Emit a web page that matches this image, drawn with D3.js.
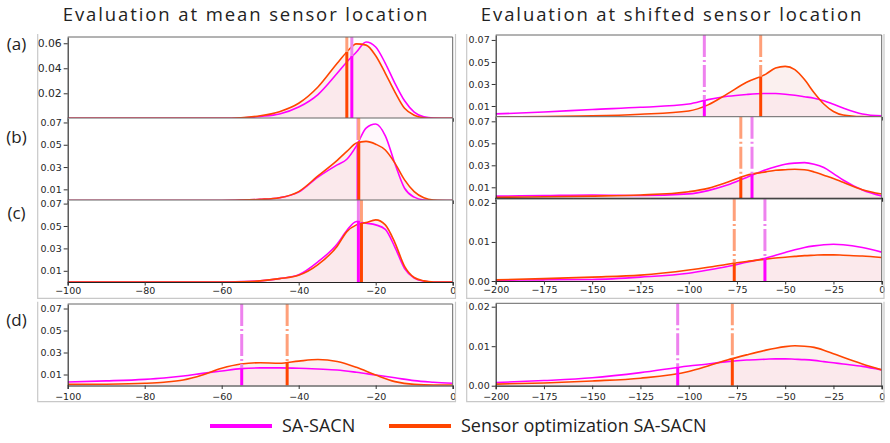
<!DOCTYPE html>
<html>
<head>
<meta charset="utf-8">
<script src="https://cdn.jsdelivr.net/npm/d3@7"></script>
<style>
  body { margin: 0; background: #fff; }
  svg { display: block; }
</style>
</head>
<body>
<svg id="chart" width="890" height="443"></svg>
<script>
// x grids (dB) for the density curves
const gridL = [-100, -60, -55, -50, -45, -40, -35, -30, -27.5, -25, -22.5, -20, -17.5, -15, -12.5, -10, -7.5, -5, 0];
const gridLd = [-100, -90, -80, -75, -70, -65, -60, -55, -50, -45, -40, -35, -30, -25, -20, -15, -10, -5, 0];
const gridR = [-200, -175, -150, -125, -100, -90, -80, -70, -60, -55, -50, -45, -40, -35, -30, -25, -20, -10, 0];

// density values: SA-SACN (sa) and Sensor optimization SA-SACN (opt)
const leftA_sa = [0, 0, 0.0003, 0.0015, 0.0035, 0.009, 0.019, 0.036, 0.045, 0.053, 0.061, 0.057, 0.044, 0.028, 0.014, 0.005, 0.0012, 0.0002, 0];
const leftA_opt = [0, 0, 0.0005, 0.002, 0.0053, 0.012, 0.025, 0.044, 0.053, 0.0595, 0.0585, 0.050, 0.036, 0.021, 0.008, 0.0025, 0.0005, 0, 0];
const leftB_sa = [0, 0, 0.0003, 0.001, 0.0025, 0.0075, 0.021, 0.032, 0.037, 0.049, 0.065, 0.0686, 0.058, 0.033, 0.011, 0.003, 0.0005, 0, 0];
const leftB_opt = [0, 0, 0.0003, 0.001, 0.0025, 0.008, 0.022, 0.036, 0.044, 0.0515, 0.053, 0.0505, 0.0453, 0.0335, 0.0185, 0.008, 0.0025, 0.0005, 0];
const leftC_sa = [0, 0, 0.0003, 0.001, 0.003, 0.0065, 0.018, 0.034, 0.046, 0.054, 0.0525, 0.051, 0.047, 0.031, 0.012, 0.0035, 0.0008, 0, 0];
const leftC_opt = [0, 0, 0.0002, 0.001, 0.003, 0.006, 0.0155, 0.032, 0.045, 0.051, 0.053, 0.0555, 0.051, 0.035, 0.014, 0.004, 0.001, 0, 0];
const leftD_sa = [0.0032, 0.0042, 0.0056, 0.0068, 0.0086, 0.011, 0.0132, 0.0153, 0.016, 0.016, 0.0157, 0.015, 0.0141, 0.012, 0.0095, 0.007, 0.0044, 0.003, 0.002];
const leftD_opt = [0.001, 0.0012, 0.002, 0.003, 0.005, 0.0095, 0.0156, 0.0195, 0.0207, 0.0202, 0.0222, 0.0236, 0.0218, 0.0165, 0.0095, 0.0035, 0.001, 0.0005, 0.0005];
const rightA_sa = [0.0028, 0.0045, 0.0068, 0.0088, 0.0118, 0.0158, 0.0188, 0.0205, 0.0214, 0.0213, 0.0207, 0.0197, 0.0184, 0.017, 0.0148, 0.0115, 0.0082, 0.0028, 0.001];
const rightA_opt = [0, 0.0005, 0.001, 0.0025, 0.0055, 0.011, 0.021, 0.0315, 0.039, 0.0445, 0.046, 0.043, 0.034, 0.022, 0.0118, 0.005, 0.0018, 0.0003, 0];
const rightB_sa = [0.002, 0.0025, 0.003, 0.0025, 0.004, 0.007, 0.012, 0.019, 0.026, 0.0287, 0.031, 0.032, 0.0324, 0.031, 0.028, 0.0225, 0.0166, 0.0075, 0.002];
const rightB_opt = [0.0009, 0.0014, 0.002, 0.003, 0.006, 0.009, 0.0145, 0.021, 0.024, 0.0255, 0.026, 0.0264, 0.026, 0.024, 0.021, 0.018, 0.0145, 0.0078, 0.0039];
const rightC_sa = [0.0002, 0.0003, 0.0004, 0.001, 0.002, 0.0028, 0.0037, 0.0048, 0.0059, 0.0066, 0.0073, 0.008, 0.0086, 0.009, 0.0093, 0.0094, 0.0093, 0.0086, 0.0074];
const rightC_opt = [0.0003, 0.0006, 0.001, 0.0015, 0.0028, 0.0035, 0.0043, 0.005, 0.0056, 0.0059, 0.0061, 0.0063, 0.0065, 0.0066, 0.0067, 0.0067, 0.0066, 0.0064, 0.006];
const rightD_sa = [0.0008, 0.0013, 0.002, 0.0033, 0.005, 0.0055, 0.0061, 0.0065, 0.0067, 0.0068, 0.0068, 0.0067, 0.0066, 0.0064, 0.0061, 0.0058, 0.0055, 0.0049, 0.004];
const rightD_opt = [0.0004, 0.0007, 0.0012, 0.0019, 0.0036, 0.005, 0.0065, 0.0078, 0.009, 0.0095, 0.0099, 0.0101, 0.01, 0.0097, 0.009, 0.0081, 0.0072, 0.0055, 0.004];

// means and density at the mean, order: left a,b,c,d then right a,b,c,d
const meanSA = [-26.2, -24.6, -24.5, -54.8, -91.9, -67.2, -60.5, -105.7];
const meanOpt = [-27.5, -24.4, -23.7, -43.0, -62.7, -73.0, -76.4, -77.4];
const atMeanSA = [0.0498, 0.052, 0.055, 0.0156, 0.0155, 0.0218, 0.0058, 0.0048];
const atMeanOpt = [0.053, 0.053, 0.052, 0.0207, 0.0366, 0.0196, 0.0047, 0.0069];

// ticks
const yTicksA = [0.02, 0.04, 0.06];
const yTicks7 = [0.01, 0.03, 0.05, 0.07];
const yTicks2 = [0.00, 0.01, 0.02];
const xTicksL = [-100, -80, -60, -40, -20, 0];
const xTicksR = [-200, -175, -150, -125, -100, -75, -50, -25, 0];
const xTicksHidden = [-160, -120, -80, -40];

const titles = ["Evaluation at mean sensor location", "Evaluation at shifted sensor location"];
const rowLabels = ["(a)", "(b)", "(c)", "(d)"];
const seriesNames = ["SA-SACN", "Sensor optimization SA-SACN"];

const colSA = "#ff00ff", colOpt = "#ff4500";
const lightSA = "#ee82ee", lightOpt = "#ffa07a";

// panel boxes
const L = { x0: 67.7, x1: 452.7, dom: [-100, 0] };
const R = { x0: 495.7, x1: 881.7, dom: [-200, 0] };
const panels = [
  { c: L, top: 37, bot: 118.3, ymax: 0.065, yt: yTicksA, fs: 10.8, xs: gridL, sa: leftA_sa, opt: leftA_opt },
  { c: L, top: 118, bot: 200.5, ymax: 0.074, yt: yTicks7, fs: 9.5, xs: gridL, sa: leftB_sa, opt: leftB_opt },
  { c: L, top: 200, bot: 282, ymax: 0.0732, yt: yTicks7, fs: 9.5, xs: gridL, sa: leftC_sa, opt: leftC_opt, xt: xTicksL, pad: 2 },
  { c: L, top: 304, bot: 385.5, ymax: 0.0741, yt: yTicks7, fs: 9.5, xs: gridLd, sa: leftD_sa, opt: leftD_opt, xt: xTicksL, pad: 4.5 },
  { c: R, top: 35, bot: 117, ymax: 0.0745, yt: yTicks7, fs: 9.5, xs: gridR, sa: rightA_sa, opt: rightA_opt },
  { c: R, top: 116.7, bot: 198.3, ymax: 0.0742, yt: yTicks7, fs: 9.5, xs: gridR, sa: rightB_sa, opt: rightB_opt, hidden: xTicksHidden },
  { c: R, top: 199, bot: 281, ymax: 0.021, yt: yTicks2, fs: 9.5, xs: gridR, sa: rightC_sa, opt: rightC_opt, xt: xTicksR, pad: 2 },
  { c: R, top: 303.3, bot: 385.7, ymax: 0.02086, yt: yTicks2, fs: 9.5, xs: gridR, sa: rightD_sa, opt: rightD_opt, xt: xTicksR, pad: 4.5 }
];

const svg = d3.select("#chart");
const defs = svg.append("defs");

// clip each column so the last tick label is cut like the source images
defs.append("clipPath").attr("id", "colL").append("rect").attr("x", 0).attr("y", 0).attr("width", 455.5).attr("height", 443);
defs.append("clipPath").attr("id", "colR").append("rect").attr("x", 458).attr("y", 0).attr("width", 427).attr("height", 443);

const gL = svg.append("g").attr("clip-path", "url(#colL)");
const gR = svg.append("g").attr("clip-path", "url(#colR)");

panels.forEach((p, i) => {
  const root = p.c === L ? gL : gR;
  const x = d3.scaleLinear().domain(p.c.dom).range([p.c.x0, p.c.x1]);
  const y = d3.scaleLinear().domain([0, p.ymax]).range([p.bot, p.top]);
  const g = root.append("g");

  // white background so a later panel covers the one above
  g.append("rect")
    .attr("x", p.c.x0).attr("y", p.top)
    .attr("width", p.c.x1 - p.c.x0).attr("height", p.bot - p.top)
    .attr("fill", "#fff");

  const clipId = "clip" + i;
  defs.append("clipPath").attr("id", clipId).append("rect")
    .attr("x", p.c.x0).attr("y", p.top)
    .attr("width", p.c.x1 - p.c.x0).attr("height", p.bot - p.top);
  const plot = g.append("g").attr("clip-path", `url(#${clipId})`);

  const area = d3.area().x(d => x(d[0])).y0(y(0)).y1(d => y(d[1])).curve(d3.curveMonotoneX);
  const line = d3.line().x(d => x(d[0])).y(d => y(d[1])).curve(d3.curveMonotoneX);
  const dSA = p.xs.map((v, k) => [v, p.sa[k]]);
  const dOpt = p.xs.map((v, k) => [v, p.opt[k]]);

  plot.append("path").attr("d", area(dSA)).attr("fill", "#ff40a0").attr("fill-opacity", 0.035);
  plot.append("path").attr("d", area(dOpt)).attr("fill", "#c83020").attr("fill-opacity", 0.07);
  plot.append("path").attr("d", line(dSA)).attr("fill", "none").attr("stroke", colSA).attr("stroke-width", 1.6);
  plot.append("path").attr("d", line(dOpt)).attr("fill", "none").attr("stroke", colOpt).attr("stroke-width", 1.6);

  // mean markers: dash-dot above the curve, solid below it
  const marks = [
    { m: meanSA[i], h: atMeanSA[i], light: lightSA, full: colSA },
    { m: meanOpt[i], h: atMeanOpt[i], light: lightOpt, full: colOpt }
  ];
  marks.forEach(mk => {
    plot.append("line")
      .attr("x1", x(mk.m)).attr("x2", x(mk.m))
      .attr("y1", p.top).attr("y2", y(mk.h))
      .attr("stroke", mk.light).attr("stroke-width", 3)
      .attr("stroke-dasharray", "22,3,2,3");
  });
  marks.forEach(mk => {
    plot.append("line")
      .attr("x1", x(mk.m)).attr("x2", x(mk.m))
      .attr("y1", y(mk.h)).attr("y2", p.bot)
      .attr("stroke", mk.full).attr("stroke-width", 3);
  });

  // spines
  g.append("line").attr("x1", p.c.x0).attr("x2", p.c.x1).attr("y1", p.top).attr("y2", p.top)
    .attr("stroke", "#666").attr("stroke-width", 1);
  g.append("line").attr("x1", p.c.x1).attr("x2", p.c.x1).attr("y1", p.top).attr("y2", p.bot)
    .attr("stroke", "#666").attr("stroke-width", 1);

  const yAxis = d3.axisLeft(y).tickValues(p.yt).tickFormat(d3.format(".2f"))
    .tickSize(4).tickPadding(2).tickSizeOuter(0);
  const ya = g.append("g").attr("transform", `translate(${p.c.x0},0)`).call(yAxis);
  ya.select(".domain").attr("stroke", "#333").attr("stroke-width", 1.2);
  ya.selectAll(".tick line").attr("stroke", "#333");
  ya.selectAll("text").attr("font-family", "DejaVu Sans").attr("font-size", p.fs).attr("fill", "#262626");

  const xAxis = d3.axisBottom(x).tickSizeOuter(0).tickSize(3.5).tickPadding(p.pad || 2)
    .tickValues(p.xt || p.hidden || []).tickFormat(p.xt ? d3.format("d") : "");
  const xa = g.append("g").attr("transform", `translate(0,${p.bot})`).call(xAxis);
  xa.select(".domain").attr("stroke", "#222").attr("stroke-width", p.hidden ? 2 : 1.2);
  xa.selectAll(".tick line").attr("stroke", "#333");
  xa.selectAll("text").attr("font-family", "DejaVu Sans").attr("font-size", 9.5).attr("fill", "#262626");
});

// light grey frames of the pasted images
const frame = svg.append("g").attr("stroke", "#c8c8c8").attr("stroke-width", 1.2).attr("fill", "none");
[[37.7, 455.5, 34, 298.3], [37.7, 455.5, 301.7, 401.7], [466.7, 884, 34, 298.3], [466.7, 884, 301.7, 401.7]]
  .forEach(f => {
    frame.append("path").attr("d", `M${f[0]},${f[2]}V${f[3]}H${f[1]}V${f[2]}`);
  });

// column titles
const titleX = [246, 672];
titles.forEach((t, k) => {
  svg.append("text").attr("x", titleX[k]).attr("y", 15).attr("dy", "0.35em")
    .attr("text-anchor", "middle").attr("font-family", "Open Sans").attr("font-size", 18.5)
    .attr("letter-spacing", 1.9).attr("fill", "#222").text(t);
});

// row labels
const rowY = [44, 137, 213, 320];
rowLabels.forEach((t, k) => {
  svg.append("text").attr("x", 16.5).attr("y", rowY[k]).attr("dy", "0.35em")
    .attr("text-anchor", "middle").attr("font-family", "Open Sans").attr("font-size", 17)
    .attr("fill", "#222").text(t);
});

// legend
const legend = svg.append("g").attr("transform", "translate(0,426)");
const legItems = [
  { x: 210, color: colSA, name: seriesNames[0] },
  { x: 389, color: colOpt, name: seriesNames[1] }
];
legItems.forEach(it => {
  legend.append("line").attr("x1", it.x).attr("x2", it.x + 62).attr("y1", 0).attr("y2", 0)
    .attr("stroke", it.color).attr("stroke-width", 4);
  legend.append("text").attr("x", it.x + 72).attr("y", 0).attr("dy", "0.35em")
    .attr("font-family", "Open Sans").attr("font-size", 18).attr("fill", "#222").text(it.name);
});
</script>
</body>
</html>
